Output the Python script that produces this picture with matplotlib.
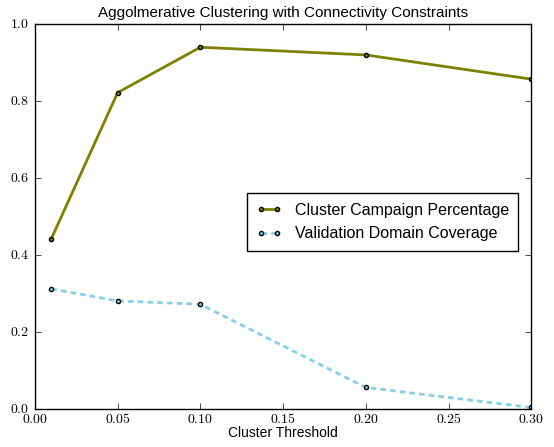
import matplotlib
matplotlib.use('Agg')
import matplotlib.pyplot as plt
from matplotlib.ticker import FuncFormatter

plt.style.use('classic')
plt.rcParams['font.family'] = ['Liberation Sans', 'DejaVu Sans']
plt.rcParams['mathtext.fontset'] = 'cm'

# data
thresholds = [0.01, 0.05, 0.10, 0.20, 0.30]
campaign_pct = [0.443, 0.822, 0.940, 0.920, 0.857]
domain_cov = [0.312, 0.281, 0.272, 0.056, 0.004]

fig = plt.figure(figsize=(5.54, 4.47), dpi=100)
fig.patch.set_facecolor('white')
ax = fig.add_axes([0.063, 0.085, 0.896, 0.861])

ax.plot(thresholds, campaign_pct, color='#808000', lw=2, marker='o', ms=3,
        mfc='#808000', mec='black', mew=1, label='Cluster Campaign Percentage')
ax.plot(thresholds, domain_cov, color='#87CEEB', lw=2, ls='--', dashes=(4, 3), marker='o', ms=3,
        mfc='#87CEEB', mec='black', mew=1, label='Validation Domain Coverage')

ax.set_xlim(0, 0.3)
ax.set_ylim(0, 1.0)
ax.set_xticks([0, 0.05, 0.1, 0.15, 0.2, 0.25, 0.3])
ax.set_yticks([0, 0.2, 0.4, 0.6, 0.8, 1.0])
ax.xaxis.set_major_formatter(FuncFormatter(lambda v, p: r'$%.2f$' % v))
ax.yaxis.set_major_formatter(FuncFormatter(lambda v, p: r'$%.1f$' % v))
ax.tick_params(labelsize=10)
ax.tick_params(axis='x', pad=2)

ax.set_title('Aggolmerative Clustering with Connectivity Constraints', fontsize=11)
ax.set_xlabel('Cluster Threshold', fontsize=10, labelpad=0)

ax.legend(loc='center right', bbox_to_anchor=(0.99, 0.486), fontsize=11.5,
          numpoints=2, handlelength=1.6, borderpad=0.6, labelspacing=0.55)

fig.savefig('out.png', dpi=100, facecolor='white')
